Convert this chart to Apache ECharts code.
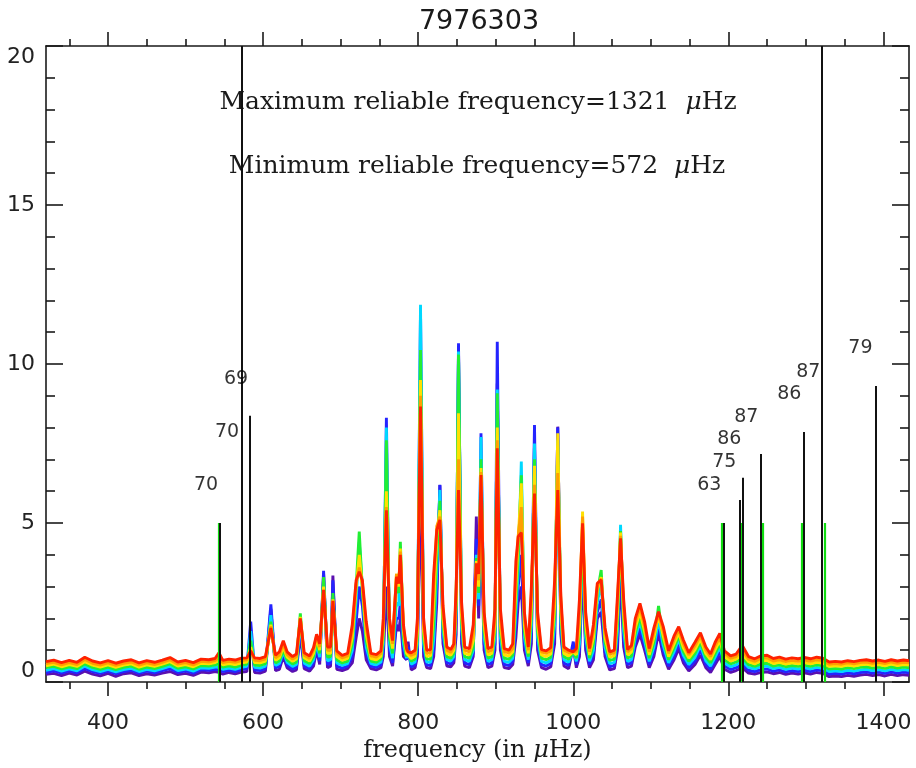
<!DOCTYPE html>
<html>
<head>
<meta charset="utf-8">
<title>7976303</title>
<script src="https://cdn.jsdelivr.net/npm/echarts@6/dist/echarts.min.js"></script>
<style>
  html, body { margin: 0; padding: 0; background: #fff; }
  #chart { width: 916px; height: 768px; }
</style>
</head>
<body>
<div id="chart"></div>
<script>
// frequency grid (in µHz) shared by the seven spectra
const freq = [
  320,330,340,350,360,370,380,390,400,410,420,430,440,450,460,470,480,490,500,510,520,530,538,
  543,548,556,564,572,579,584,589,596,603,
  610,616,621,626,631,638,643,648,653,660,
  665,669,673,678,683,687,690,695,702,709,
  715,720,724,728,733,739,746,752,755,759,
  763,767,772,775,777,781,785,787,791,796,
  799,803,807,811,816,820,824,828,832,837,
  842,846,849,852,856,860,866,871,875,878,
  881,885,890,895,899,902,906,911,917,922,
  926,929,933,937,942,946,950,954,959,965,
  971,976,980,984,988,994,1000,1004,1008,1012,
  1016,1021,1026,1031,1036,1041,1047,1053,1057,1061,
  1065,1070,1075,1080,1086,1092,1098,1104,1110,1116,
  1123,1130,1136,1142,1149,1157,1164,1171,1177,1183,
  1189,1195,
  1203,1210,1218,1226,1234,1242,1250,1258,1266,1274,
  1282,1290,1298,1306,1314,1322,1330,1338,1346,1354,
  1362,1370,1378,1386,1394,1402,1410,1418,1426,1433
];

// spectra, drawn purple first and red last
const purple = [
  .24,.27,.20,.28,.22,.34,.25,.19,.27,.18,.26,.29,.20,.26,.22,.28,.33,.23,.27,.21,.31,.29,.33,
  .30,.25,.30,.26,.31,.33,1.50,.30,.28,.34,
  2.30,.36,.40,.80,.45,.33,.38,1.50,.42,.34,
  .50,1.00,.55,3.40,.45,.50,3.35,.40,.36,.42,
  .60,1.40,2.00,1.60,.70,.42,.38,.45,.80,3.00,
  .80,.50,1.80,1.60,2.00,.80,.70,1.27,.38,.45,
  .80,6.00,.80,.45,.42,.80,2.50,6.19,1.20,.50,
  .48,.60,1.50,10.50,1.20,.50,.45,.80,5.20,2.00,
  5.00,1.00,.45,.50,1.00,9.39,1.00,.45,.42,.55,
  1.40,2.50,3.00,1.00,.50,1.20,7.50,1.00,.45,.40,
  .48,1.20,8.03,1.50,.50,.42,1.10,.45,.80,3.50,
  1.00,.45,.70,2.00,2.20,.80,.38,.42,1.00,3.40,
  1.10,.45,.50,1.10,1.50,1.00,.45,.80,1.55,.85,
  .40,.70,1.05,.60,.35,.55,.85,.45,.30,.55,
  .80,.40,
  .30,.36,.45,.28,.25,.30,.32,.26,.30,.24,
  .28,.25,.29,.25,.30,.27,.17,.19,.17,.21,
  .18,.22,.24,.20,.23,.19,.24,.20,.23,.21
];
const blue = [
  .30,.35,.28,.35,.29,.42,.33,.27,.34,.26,.33,.37,.27,.34,.29,.36,.42,.30,.35,.28,.39,.37,.40,
  .38,.33,.37,.33,.39,.42,1.90,.38,.36,.42,
  2.44,.44,.49,.90,.53,.41,.46,1.70,.50,.42,
  .60,1.10,.66,3.50,.55,.60,3.20,.50,.44,.50,
  .80,1.90,3.00,2.40,.90,.50,.46,.54,1.00,8.31,
  1.00,.60,2.00,2.00,2.50,1.00,.70,1.10,.47,.54,
  1.00,11.70,1.00,.54,.52,1.00,3.00,6.20,1.40,.60,
  .57,.70,2.00,10.65,1.50,.60,.55,.90,4.50,2.40,
  7.82,1.20,.55,.60,1.20,10.70,1.20,.55,.52,.65,
  1.80,3.00,4.00,1.20,.60,1.50,8.08,1.20,.55,.50,
  .58,1.50,8.00,1.70,.60,.52,1.27,.55,1.00,4.00,
  1.20,.55,.85,2.20,2.60,.95,.48,.52,1.30,4.00,
  1.35,.55,.60,1.25,1.70,1.15,.55,.95,1.75,1.00,
  .50,.82,1.20,.72,.45,.66,1.00,.56,.40,.66,
  .95,.50,
  .39,.45,.55,.37,.33,.39,.41,.34,.38,.32,
  .36,.33,.37,.33,.38,.35,.25,.27,.25,.29,
  .26,.30,.32,.28,.31,.27,.32,.28,.31,.29
];
const cyan = [
  .37,.42,.34,.41,.35,.50,.39,.33,.40,.32,.39,.43,.33,.40,.35,.42,.50,.36,.41,.34,.45,.43,.47,
  .48,.40,.44,.40,.46,.49,1.60,.46,.44,.50,
  2.10,.52,.58,.95,.62,.49,.55,1.90,.59,.50,
  .70,1.20,.78,3.20,.66,.70,2.60,.60,.52,.58,
  1.00,2.60,4.40,3.00,1.10,.58,.54,.63,1.20,8.00,
  1.20,.75,2.50,2.40,3.60,1.20,.75,1.00,.56,.63,
  1.20,11.86,1.20,.63,.62,1.30,3.50,6.04,1.60,.70,
  .66,.80,2.20,10.39,1.70,.70,.65,1.00,4.00,2.60,
  7.70,1.40,.65,.70,1.40,9.20,1.40,.65,.62,.75,
  2.20,3.50,6.93,1.40,.70,1.80,7.50,1.40,.65,.60,
  .68,1.80,7.60,1.90,.70,.62,1.00,.65,1.20,4.50,
  1.40,.65,1.00,2.50,3.10,1.10,.58,.62,1.60,4.94,
  1.60,.65,.70,1.40,1.90,1.30,.65,1.10,1.95,1.15,
  .60,.95,1.35,.84,.55,.78,1.15,.67,.50,.78,
  1.10,.60,
  .48,.54,.66,.46,.41,.48,.50,.42,.46,.40,
  .44,.41,.45,.41,.46,.43,.33,.35,.33,.37,
  .34,.38,.40,.36,.39,.35,.40,.36,.39,.37
];
const green = [
  .45,.49,.41,.48,.42,.57,.46,.40,.47,.39,.46,.50,.40,.47,.42,.49,.57,.43,.48,.41,.52,.50,.54,
  .58,.47,.51,.47,.53,.56,1.30,.53,.52,.58,
  1.90,.60,.67,1.00,.70,.57,.63,2.16,.67,.58,
  .80,1.30,.90,3.30,.78,.80,2.80,.70,.60,.66,
  1.20,3.00,4.73,2.90,1.30,.66,.62,.72,1.40,7.60,
  1.40,.90,3.00,2.80,4.41,1.40,.80,.95,.65,.72,
  1.40,10.44,1.40,.72,.72,1.80,4.00,5.70,1.80,.80,
  .75,.90,2.40,10.30,1.90,.80,.75,1.10,3.90,2.80,
  7.00,1.60,.75,.80,1.60,9.08,1.60,.75,.72,.85,
  2.60,4.00,6.50,1.60,.80,2.10,7.00,1.60,.75,.70,
  .78,2.10,7.40,2.10,.80,.72,.95,.75,1.50,4.80,
  1.60,.75,1.20,2.80,3.52,1.25,.68,.72,1.90,4.75,
  1.85,.75,.82,1.55,2.05,1.45,.75,1.25,2.39,1.30,
  .70,1.08,1.45,.96,.65,.90,1.25,.78,.60,.90,
  1.20,.70,
  .57,.63,.77,.55,.49,.57,.59,.50,.54,.48,
  .52,.49,.53,.49,.54,.51,.41,.43,.41,.45,
  .42,.46,.48,.44,.47,.43,.48,.44,.47,.45
];
const yellow = [
  .51,.56,.48,.55,.49,.64,.53,.47,.54,.46,.53,.57,.47,.54,.49,.56,.64,.50,.55,.48,.59,.57,.61,
  .68,.54,.58,.55,.60,.63,1.10,.61,.60,.66,
  1.80,.68,.76,1.10,.78,.65,.72,2.05,.76,.66,
  .90,1.38,1.00,3.00,.90,.90,2.60,.80,.68,.74,
  1.40,3.00,4.00,3.00,1.50,.74,.70,.81,1.60,6.00,
  1.60,1.05,3.40,3.00,4.20,1.60,.90,.95,.74,.81,
  1.60,9.50,1.60,.81,.82,2.40,4.60,5.40,2.00,.90,
  .84,1.00,2.60,8.45,2.10,.90,.85,1.30,3.80,3.00,
  6.73,1.80,.85,.90,1.80,8.00,1.80,.85,.82,.95,
  3.00,4.50,6.25,1.80,.90,2.40,6.80,1.80,.85,.80,
  .88,2.40,7.82,2.30,.90,.82,.95,.85,1.80,5.36,
  1.80,.85,1.40,2.90,3.30,1.40,.78,.82,2.20,4.70,
  2.10,.85,.94,1.70,2.20,1.60,.85,1.40,2.10,1.45,
  .80,1.20,1.55,1.08,.75,1.02,1.35,.89,.70,1.02,
  1.30,.80,
  .66,.72,.88,.64,.57,.66,.68,.58,.62,.56,
  .60,.57,.61,.57,.62,.59,.49,.51,.49,.53,
  .50,.54,.56,.52,.55,.51,.56,.52,.55,.53
];
const orange = [
  .58,.62,.54,.61,.55,.71,.59,.53,.60,.52,.59,.63,.53,.60,.55,.62,.70,.56,.61,.54,.65,.63,.67,
  .78,.61,.65,.62,.67,.70,1.00,.68,.67,.73,
  1.75,.76,.85,1.20,.86,.72,.80,2.00,.84,.74,
  1.00,1.45,1.10,2.90,1.00,1.00,2.55,.90,.76,.82,
  1.60,3.10,3.60,3.10,1.70,.82,.78,.90,1.80,5.50,
  1.80,1.20,3.40,3.10,4.10,1.70,1.00,1.00,.83,.90,
  1.80,9.00,1.80,.90,.92,3.00,4.90,5.20,2.20,1.00,
  .93,1.10,2.80,7.00,2.30,1.00,.95,1.50,3.75,3.20,
  6.60,2.00,.95,1.00,2.00,7.60,2.00,.95,.92,1.05,
  3.40,4.60,5.50,2.00,1.00,2.70,6.20,2.00,.95,.90,
  .98,2.80,6.57,2.50,1.00,.92,.95,.95,2.20,5.20,
  2.00,.95,1.60,3.00,3.25,1.55,.88,.92,2.50,4.60,
  2.35,.95,1.05,1.85,2.35,1.75,.95,1.55,2.15,1.60,
  .90,1.32,1.65,1.20,.85,1.14,1.45,1.00,.80,1.14,
  1.40,.90,
  .74,.80,1.00,.72,.65,.74,.76,.66,.70,.64,
  .68,.65,.69,.65,.70,.67,.56,.58,.56,.60,
  .57,.61,.63,.59,.62,.58,.63,.59,.62,.60
];
const red = [
  .64,.69,.61,.68,.62,.78,.66,.60,.67,.59,.66,.70,.60,.67,.62,.69,.77,.63,.68,.61,.72,.70,.74,
  .92,.68,.72,.69,.75,.76,.98,.76,.74,.80,
  1.70,.84,.95,1.30,.95,.80,.88,2.00,.92,.82,
  1.08,1.50,1.20,2.90,1.10,1.10,2.55,.98,.84,.90,
  1.80,3.20,3.47,3.20,1.90,.90,.86,.98,2.00,5.40,
  2.00,1.30,3.31,3.10,4.00,1.80,1.05,.95,.92,1.00,
  2.00,8.66,2.00,1.00,1.02,3.40,4.78,5.10,2.40,1.10,
  1.02,1.20,3.00,6.04,2.50,1.10,1.05,1.80,3.73,3.40,
  6.51,2.20,1.05,1.10,2.30,7.35,2.30,1.05,1.00,1.20,
  3.80,4.57,4.70,2.20,1.10,3.00,5.93,2.20,1.02,.98,
  1.08,3.20,6.04,2.70,1.10,1.00,.95,1.05,2.60,4.99,
  2.20,1.05,1.80,3.10,3.21,1.70,.95,1.00,2.70,4.52,
  2.60,1.02,1.15,2.00,2.47,1.90,1.05,1.70,2.21,1.75,
  .98,1.45,1.74,1.32,.92,1.25,1.55,1.10,.88,1.25,
  1.53,.98,
  .82,.88,1.15,.80,.73,.82,.84,.74,.78,.72,
  .76,.73,.77,.73,.78,.75,.63,.65,.63,.67,
  .64,.68,.70,.66,.69,.65,.70,.66,.69,.67
];

// vertical markers
const limitFreq = [572, 1321];             // reliable range, full height
const modeFreq = [544.5, 583.2, 1193.5, 1214.5, 1218.2, 1241.5, 1296.8, 1389.7];
const modeHeight = [5, 8.37, 5, 5.72, 6.42, 7.17, 7.86, 9.31];
const greenFreq = [542.3, 1191.2, 1215.8, 1244, 1294.5, 1324];
const greenHeight = 5;

// numbers written beside the markers
const labelText = ['70', '70', '69', '63', '75', '86', '87', '86', '87', '79'];
const labelFreq = [526.5, 553.5, 565.2, 1175.5, 1194.8, 1201.3, 1223.2, 1278.7, 1303.2, 1370.3];
const labelVal = [6.2, 7.86, 9.53, 6.2, 6.92, 7.64, 8.33, 9.06, 9.75, 10.5];

// axes
const xMin = 320, xMax = 1433;
const xMajor = [400, 600, 800, 1000, 1200, 1400];
const xMinor = [350, 450, 500, 550, 650, 700, 750, 850, 900, 950, 1050, 1100, 1150, 1250, 1300, 1350];

const spectra = [
  ['purple', purple, '#5a10b0'],
  ['blue', blue, '#2424ff'],
  ['cyan', cyan, '#00d8ff'],
  ['green', green, '#22ee33'],
  ['yellow', yellow, '#ffe000'],
  ['orange', orange, '#ffa000'],
  ['red', red, '#ff2200']
];
spectra.forEach(([name, arr]) => {
  if (arr.length !== freq.length) throw new Error(name + ' has ' + arr.length + ' values, freq has ' + freq.length);
});

const ink = '#1a1a1a';
const serif = '"DejaVu Serif", "Liberation Serif", serif';
const sans = '"DejaVu Sans", "Liberation Sans", sans-serif';

const series = spectra.map(([name, arr, color]) => ({
  name: name,
  type: 'line',
  xAxisIndex: 0,
  yAxisIndex: 0,
  data: freq.map((f, i) => [f, arr[i]]),
  showSymbol: false,
  symbol: 'none',
  lineStyle: { color: color, width: 2.9 },
  silent: true
}));

const markLines = [];
greenFreq.forEach(f => {
  markLines.push([{ coord: [f, 0], lineStyle: { color: '#10dd10', width: 2.2 } }, { coord: [f, greenHeight] }]);
});
modeFreq.forEach((f, i) => {
  markLines.push([{ coord: [f, 0], lineStyle: { color: '#111', width: 2 } }, { coord: [f, modeHeight[i]] }]);
});
limitFreq.forEach(f => {
  markLines.push([{ coord: [f, 0], lineStyle: { color: '#111', width: 2 } }, { coord: [f, 20] }]);
});

series.push({
  name: 'labels',
  type: 'scatter',
  xAxisIndex: 0,
  yAxisIndex: 0,
  symbol: 'circle',
  symbolSize: 1,
  itemStyle: { color: 'rgba(0,0,0,0)' },
  z: 10,
  silent: true,
  data: labelText.map((t, i) => ({ name: t, value: [labelFreq[i], labelVal[i]] })),
  label: {
    show: true,
    position: 'inside',
    formatter: p => p.name,
    fontFamily: sans,
    fontSize: 19,
    color: '#000'
  },
  markLine: {
    silent: true,
    symbol: 'none',
    label: { show: false },
    lineStyle: { type: 'solid' },
    data: markLines
  }
});

function xAxisDef(position, ticks, len, withLine, withLabels) {
  return {
    type: 'value',
    position: position,
    min: xMin,
    max: xMax,
    axisLine: { show: withLine, onZero: false, lineStyle: { color: ink, width: 1.6 } },
    axisTick: { show: true, inside: false, length: len, customValues: ticks, lineStyle: { color: ink, width: 1.6 } },
    axisLabel: withLabels
      ? { show: true, customValues: ticks, margin: 30, fontFamily: sans, fontSize: 22, color: '#222',
          formatter: v => String(v) }
      : { show: false },
    splitLine: { show: false }
  };
}

const xBottom = xAxisDef('bottom', xMajor, 14, true, true);
xBottom.name = 'frequency (in {i|μ}Hz)';
xBottom.nameLocation = 'middle';
xBottom.nameGap = 54;
xBottom.nameTextStyle = {
  fontFamily: serif, fontSize: 24, color: ink,
  rich: { i: { fontFamily: serif, fontSize: 24, fontStyle: 'italic', color: ink } }
};

function yAxisDef(position, withLabels) {
  return {
    type: 'value',
    position: position,
    min: 0,
    max: 20,
    interval: 5,
    axisLine: { show: true, onZero: false, lineStyle: { color: ink, width: 1.6 } },
    axisTick: { show: true, inside: true, length: 17, lineStyle: { color: ink, width: 1.6 } },
    minorTick: { show: true, splitNumber: 5, length: 9, lineStyle: { color: ink, width: 1.6 } },
    axisLabel: withLabels
      ? { show: true, margin: 11, fontFamily: sans, fontSize: 22, color: '#222',
          verticalAlignMinLabel: 'bottom', verticalAlignMaxLabel: 'top' }
      : { show: false },
    splitLine: { show: false }
  };
}

const chart = echarts.init(document.getElementById('chart'), null, { renderer: 'canvas' });
chart.setOption({
  animation: false,
  backgroundColor: '#fff',
  grid: { left: 46, right: 7, top: 46, bottom: 86 },
  xAxis: [
    xBottom,
    xAxisDef('bottom', xMinor, 7, false, false),
    xAxisDef('top', xMajor, 14, true, false),
    xAxisDef('top', xMinor, 7, false, false)
  ],
  yAxis: [yAxisDef('left', true), yAxisDef('right', false)],
  series: series,
  graphic: [
    {
      type: 'text', x: 479, y: 22, silent: true,
      style: { text: '7976303', fontFamily: sans, fontSize: 27, fill: ink, align: 'center', verticalAlign: 'middle' }
    },
    {
      type: 'text', x: 478, y: 102, silent: true,
      style: {
        text: 'Maximum reliable frequency=1321  {i|μ}Hz', fontFamily: serif, fontSize: 25, fill: ink,
        align: 'center', verticalAlign: 'middle',
        rich: { i: { fontFamily: serif, fontSize: 25, fontStyle: 'italic', fill: ink } }
      }
    },
    {
      type: 'text', x: 477, y: 166, silent: true,
      style: {
        text: 'Minimum reliable frequency=572  {i|μ}Hz', fontFamily: serif, fontSize: 25, fill: ink,
        align: 'center', verticalAlign: 'middle',
        rich: { i: { fontFamily: serif, fontSize: 25, fontStyle: 'italic', fill: ink } }
      }
    }
  ]
});
</script>
</body>
</html>
